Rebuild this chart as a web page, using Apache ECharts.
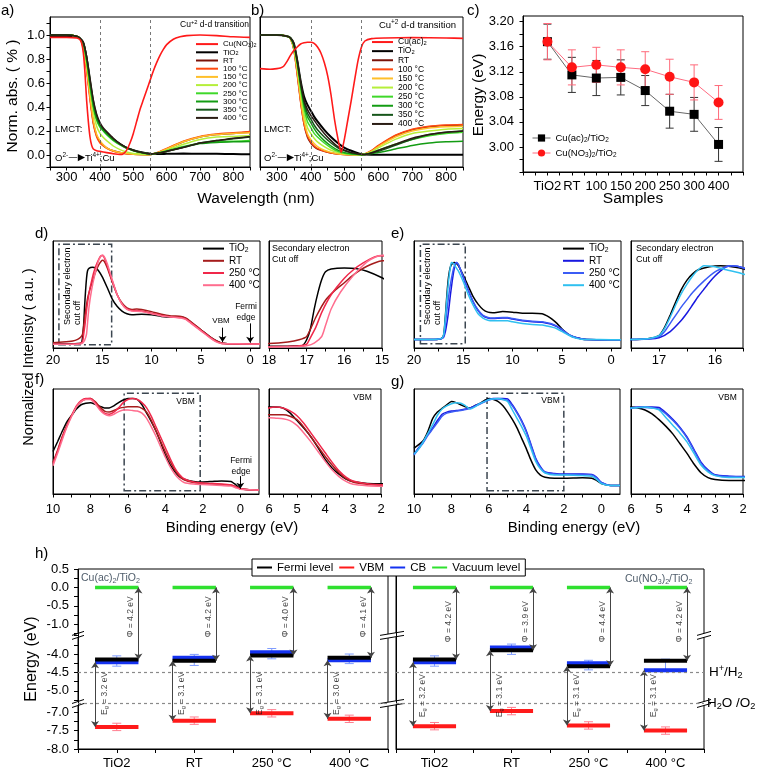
<!DOCTYPE html>
<html>
<head>
<meta charset="utf-8">
<script src="https://cdn.jsdelivr.net/npm/echarts@6.0.0/dist/echarts.min.js"></script>
<style>html,body{margin:0;padding:0;background:#fff;}#chart{width:757px;height:771px;}</style>
</head>
<body>
<div id="chart"></div>
<script>
// ===================== DATA =====================
// (a),(b) UV-vis, wavelength grid (nm)
const WL = [250,300,330,340,350,360,370,380,390,400,410,420,440,460,480,500,520,540,550,560,580,600,650,700,750,800,850];
const SAMPLES = ['TiO2','RT','100 °C','150 °C','200 °C','250 °C','300 °C','350 °C','400 °C'];
const A_CUNO3 = [[250,0.98],[300,0.98],[330,0.975],[340,0.96],[345,0.93],[350,0.85],[355,0.68],[360,0.45],[365,0.28],[370,0.15],[375,0.08],[380,0.05],[390,0.035],[400,0.03],[420,0.02],[440,0.01],[460,0.004],[470,0.01],[480,0.04],[490,0.1],[500,0.18],[510,0.28],[520,0.38],[530,0.46],[540,0.54],[550,0.62],[560,0.7],[570,0.77],[580,0.83],[590,0.88],[600,0.92],[620,0.965],[640,0.985],[660,0.995],[700,1.0],[750,0.995],[800,0.985],[850,0.98]];
const A_TIO2 = [0.99,0.99,0.985,0.97,0.93,0.80,0.60,0.42,0.31,0.25,0.21,0.18,0.13,0.09,0.06,0.04,0.025,0.015,0.01,0.008,0.008,0.01,0.012,0.01,0.01,0.008,0.006];
const A_RT   = [1.0,1.0,0.99,0.97,0.90,0.72,0.48,0.27,0.16,0.11,0.08,0.06,0.035,0.02,0.01,0.006,0.004,0.003,0.003,0.008,0.025,0.05,0.11,0.15,0.17,0.18,0.19];
const A_100  = [1.0,1.0,0.99,0.97,0.89,0.70,0.46,0.26,0.15,0.10,0.075,0.055,0.03,0.018,0.01,0.006,0.004,0.003,0.004,0.01,0.03,0.055,0.115,0.155,0.175,0.185,0.195];
const A_150  = [1.0,1.0,0.99,0.97,0.90,0.72,0.49,0.29,0.17,0.12,0.085,0.06,0.035,0.02,0.012,0.007,0.004,0.003,0.004,0.01,0.028,0.05,0.11,0.15,0.17,0.18,0.185];
const A_200  = [1.0,1.0,0.99,0.97,0.91,0.76,0.55,0.36,0.24,0.18,0.145,0.12,0.075,0.045,0.025,0.013,0.007,0.004,0.004,0.008,0.022,0.04,0.09,0.13,0.15,0.155,0.16];
const A_250  = [1.0,1.0,0.99,0.97,0.92,0.78,0.58,0.40,0.29,0.23,0.20,0.17,0.12,0.085,0.055,0.035,0.02,0.01,0.008,0.01,0.02,0.035,0.07,0.10,0.11,0.115,0.12];
const A_300  = [1.0,1.0,0.99,0.97,0.92,0.79,0.59,0.41,0.30,0.24,0.205,0.175,0.125,0.09,0.06,0.038,0.022,0.012,0.009,0.01,0.018,0.03,0.065,0.095,0.105,0.11,0.112];
const A_350  = [1.0,1.0,0.99,0.975,0.94,0.82,0.63,0.45,0.33,0.26,0.22,0.19,0.135,0.09,0.06,0.04,0.024,0.012,0.008,0.01,0.018,0.032,0.065,0.10,0.12,0.135,0.15];
const A_400  = [1.0,1.0,0.99,0.975,0.94,0.82,0.64,0.46,0.34,0.27,0.225,0.195,0.14,0.095,0.062,0.04,0.024,0.012,0.008,0.01,0.018,0.03,0.062,0.10,0.12,0.14,0.155];

const B_CUAC = [[250,0.72],[280,0.715],[300,0.72],[310,0.725],[320,0.74],[330,0.78],[340,0.83],[350,0.87],[360,0.9],[370,0.925],[380,0.935],[390,0.94],[400,0.94],[410,0.93],[420,0.9],[430,0.85],[440,0.77],[450,0.66],[460,0.5],[470,0.3],[480,0.14],[490,0.02],[500,0.14],[510,0.3],[520,0.46],[530,0.63],[540,0.79],[550,0.9],[560,0.95],[580,0.97],[620,0.975],[700,0.978],[800,0.975],[850,0.972]];
const B_TIO2 = [1.0,1.0,0.99,0.975,0.93,0.79,0.62,0.49,0.42,0.37,0.32,0.28,0.21,0.15,0.10,0.06,0.035,0.015,0.008,0.004,0.003,0.003,0.003,0.003,0.002,0.002,0.002];
const B_RT   = [1.0,1.0,0.99,0.97,0.88,0.68,0.45,0.26,0.15,0.10,0.07,0.05,0.03,0.016,0.008,0.004,0.002,0.002,0.003,0.008,0.035,0.075,0.16,0.21,0.235,0.245,0.25];
const B_100  = [1.0,1.0,0.99,0.97,0.88,0.67,0.44,0.26,0.16,0.11,0.075,0.055,0.03,0.016,0.008,0.004,0.002,0.002,0.003,0.009,0.038,0.08,0.165,0.215,0.24,0.25,0.255];
const B_150  = [1.0,1.0,0.99,0.97,0.89,0.70,0.47,0.29,0.18,0.13,0.095,0.07,0.04,0.022,0.011,0.005,0.003,0.002,0.003,0.008,0.033,0.07,0.15,0.20,0.225,0.235,0.24];
const B_200  = [1.0,1.0,0.99,0.97,0.90,0.73,0.52,0.34,0.23,0.18,0.14,0.11,0.07,0.04,0.02,0.01,0.005,0.003,0.003,0.007,0.028,0.06,0.13,0.18,0.20,0.215,0.22];
const B_250  = [1.0,1.0,0.99,0.975,0.91,0.76,0.56,0.39,0.28,0.23,0.18,0.15,0.10,0.06,0.03,0.015,0.008,0.004,0.003,0.006,0.02,0.04,0.09,0.13,0.16,0.18,0.19];
const B_300  = [1.0,1.0,0.99,0.975,0.92,0.78,0.59,0.42,0.32,0.27,0.22,0.18,0.12,0.075,0.04,0.02,0.01,0.005,0.003,0.005,0.012,0.02,0.05,0.08,0.10,0.11,0.115];
const B_350  = [1.0,1.0,0.99,0.975,0.92,0.78,0.60,0.44,0.35,0.30,0.25,0.21,0.15,0.10,0.06,0.035,0.018,0.008,0.004,0.005,0.014,0.03,0.08,0.13,0.17,0.19,0.20];
const B_400  = [1.0,1.0,0.99,0.975,0.93,0.79,0.61,0.46,0.38,0.33,0.29,0.25,0.18,0.12,0.07,0.04,0.02,0.01,0.005,0.005,0.018,0.04,0.09,0.14,0.17,0.19,0.20];

// (c) band gap energies
const C_CATS = ['TiO2','RT','100','150','200','250','300','400'];
const C_AC = [3.168,3.115,3.110,3.111,3.090,3.057,3.052,3.004];
const C_AC_ERR = [0.028,0.028,0.028,0.028,0.024,0.027,0.027,0.027];
const C_NO3 = [3.168,3.127,3.131,3.127,3.124,3.112,3.103,3.071];
const C_NO3_ERR = [0.029,0.028,0.028,0.028,0.028,0.028,0.028,0.027];

// (d) UPS, Cu(NO3)2 series  [binding energy, intensity]
const D_TIO2 = [[20,0.04],[19,0.04],[18,0.04],[17.5,0.042],[17.2,0.045],[17.1,0.05],[17.0,0.1],[16.9,0.2],[16.8,0.38],[16.7,0.53],[16.6,0.65],[16.5,0.72],[16.35,0.745],[16.0,0.755],[15.7,0.75],[15.4,0.725],[15.0,0.665],[14.5,0.565],[14.0,0.46],[13.5,0.39],[13.0,0.345],[12.5,0.32],[12.0,0.31],[11.0,0.315],[10.0,0.31],[9.0,0.295],[8.0,0.29],[7.0,0.29],[6.5,0.275],[6.0,0.24],[5.0,0.17],[4.0,0.1],[3.5,0.07],[3.0,0.05],[2.5,0.042],[2.0,0.04],[0,0.04],[-1,0.04]];
const D_RT = [[20,0.05],[19,0.055],[18,0.065],[17.5,0.08],[17.2,0.1],[17.0,0.13],[16.75,0.31],[16.5,0.46],[16.25,0.55],[16.0,0.62],[15.8,0.68],[15.6,0.73],[15.4,0.77],[15.2,0.8],[15.0,0.82],[14.8,0.81],[14.5,0.75],[14.0,0.62],[13.5,0.5],[13.0,0.42],[12.5,0.375],[12.0,0.36],[11.5,0.365],[11.0,0.36],[10.0,0.34],[9.0,0.315],[8.0,0.3],[7.0,0.295],[6.5,0.28],[6.0,0.245],[5.0,0.17],[4.0,0.1],[3.5,0.07],[3.0,0.05],[2.5,0.042],[2.0,0.04],[0,0.04],[-1,0.04]];
const D_250 = [[20,0.035],[18,0.037],[17.5,0.04],[17.2,0.045],[17.0,0.06],[16.9,0.12],[16.75,0.22],[16.6,0.35],[16.35,0.51],[16.0,0.66],[15.75,0.74],[15.5,0.8],[15.2,0.855],[15.0,0.865],[14.8,0.845],[14.5,0.77],[14.0,0.63],[13.5,0.5],[13.0,0.41],[12.5,0.365],[12.0,0.35],[11.5,0.35],[11.0,0.345],[10.0,0.325],[9.0,0.305],[8.0,0.29],[7.0,0.285],[6.5,0.27],[6.0,0.235],[5.0,0.165],[4.0,0.095],[3.5,0.065],[3.0,0.045],[2.5,0.04],[0,0.038],[-1,0.038]];
const D_400 = [[20,0.035],[18,0.035],[17.2,0.038],[17.0,0.045],[16.8,0.07],[16.6,0.13],[16.5,0.23],[16.35,0.38],[16.1,0.535],[15.75,0.69],[15.4,0.81],[15.2,0.85],[15.0,0.87],[14.8,0.855],[14.5,0.79],[14.0,0.64],[13.5,0.5],[13.0,0.41],[12.5,0.36],[12.0,0.345],[11.0,0.34],[10.0,0.32],[9.0,0.3],[8.0,0.29],[7.0,0.28],[6.5,0.265],[6.0,0.23],[5.0,0.16],[4.0,0.09],[3.5,0.06],[3.0,0.044],[2.5,0.04],[0,0.038],[-1,0.038]];

// (e) UPS, Cu(ac)2 series
const E_TIO2 = [[20,0.08],[18,0.08],[17.5,0.082],[17.2,0.09],[17.0,0.12],[16.9,0.2],[16.8,0.32],[16.7,0.45],[16.6,0.57],[16.5,0.66],[16.4,0.72],[16.3,0.76],[16.1,0.79],[15.9,0.8],[15.7,0.79],[15.5,0.77],[15.0,0.68],[14.5,0.58],[14.0,0.48],[13.5,0.41],[13.0,0.36],[12.5,0.335],[12.0,0.33],[11.0,0.34],[10.0,0.335],[9.0,0.325],[8.0,0.325],[7.0,0.32],[6.5,0.3],[6.0,0.27],[5.5,0.23],[5.0,0.18],[4.5,0.14],[4.0,0.11],[3.5,0.095],[3.0,0.085],[2.5,0.08],[0,0.078],[-1,0.078]];
const E_RT = [[20,0.08],[18,0.08],[17.5,0.082],[17.2,0.088],[17.0,0.1],[16.8,0.16],[16.6,0.27],[16.5,0.34],[16.4,0.42],[16.3,0.5],[16.2,0.57],[16.1,0.64],[16.0,0.7],[15.9,0.75],[15.8,0.79],[15.7,0.8],[15.5,0.78],[15.0,0.66],[14.5,0.54],[14.0,0.43],[13.5,0.35],[13.0,0.3],[12.5,0.28],[12.0,0.275],[11.0,0.28],[10.5,0.28],[10.0,0.27],[9.0,0.255],[8.0,0.245],[7.0,0.24],[6.5,0.23],[6.0,0.22],[5.5,0.2],[5.0,0.17],[4.5,0.135],[4.0,0.11],[3.5,0.095],[3.0,0.085],[2.5,0.08],[0,0.078],[-1,0.078]];
const E_250 = [[20,0.08],[18,0.08],[17.2,0.088],[17.0,0.11],[16.9,0.16],[16.8,0.24],[16.7,0.32],[16.6,0.4],[16.5,0.47],[16.4,0.54],[16.2,0.65],[16.0,0.74],[15.8,0.79],[15.7,0.8],[15.5,0.78],[15.0,0.665],[14.5,0.545],[14.0,0.435],[13.5,0.355],[13.0,0.305],[12.5,0.285],[12.0,0.28],[11.0,0.285],[10.5,0.285],[10.0,0.275],[9.0,0.26],[8.0,0.25],[7.0,0.245],[6.5,0.235],[6.0,0.225],[5.5,0.205],[5.0,0.175],[4.5,0.14],[4.0,0.112],[3.5,0.096],[3.0,0.086],[2.5,0.08],[0,0.078],[-1,0.078]];
const E_400 = [[20,0.08],[18,0.08],[17.2,0.09],[17.0,0.12],[16.9,0.19],[16.8,0.3],[16.7,0.42],[16.6,0.53],[16.5,0.62],[16.4,0.7],[16.3,0.76],[16.2,0.8],[16.0,0.79],[15.8,0.76],[15.5,0.72],[15.0,0.62],[14.5,0.5],[14.0,0.4],[13.5,0.32],[13.0,0.28],[12.5,0.26],[12.0,0.255],[11.0,0.255],[10.5,0.255],[10.0,0.245],[9.0,0.23],[8.0,0.22],[7.0,0.215],[6.5,0.205],[6.0,0.195],[5.5,0.18],[5.0,0.155],[4.5,0.13],[4.0,0.105],[3.5,0.09],[3.0,0.082],[2.5,0.08],[0,0.078],[-1,0.078]];

// (f) valence band, Cu(NO3)2 series
const F_TIO2 = [[10,0.405],[9.75,0.5],[9.5,0.6],[9.25,0.69],[9,0.75],[8.75,0.81],[8.5,0.85],[8.25,0.865],[8,0.87],[7.75,0.855],[7.5,0.835],[7.25,0.82],[7,0.82],[6.75,0.84],[6.5,0.87],[6.25,0.895],[6,0.91],[5.75,0.91],[5.5,0.9],[5.25,0.85],[5,0.77],[4.75,0.69],[4.5,0.6],[4.25,0.49],[4,0.37],[3.75,0.28],[3.5,0.215],[3.25,0.165],[3,0.14],[2.5,0.12],[2,0.115],[1.5,0.12],[1,0.125],[0.5,0.12],[0.25,0.09],[0,0.05],[-0.5,0.04],[-1,0.038]];
const F_RT = [[10,0.3],[9.75,0.42],[9.5,0.55],[9.25,0.66],[9,0.75],[8.75,0.83],[8.5,0.88],[8.25,0.905],[8,0.91],[7.75,0.88],[7.5,0.83],[7.25,0.79],[7,0.78],[6.75,0.795],[6.5,0.815],[6.25,0.825],[6,0.83],[5.75,0.83],[5.5,0.83],[5.25,0.815],[5,0.78],[4.75,0.7],[4.5,0.6],[4.25,0.5],[4,0.4],[3.75,0.31],[3.5,0.23],[3.25,0.17],[3,0.135],[2.5,0.11],[2,0.1],[1.5,0.095],[1,0.09],[0.5,0.085],[0.25,0.07],[0,0.05],[-0.5,0.04],[-1,0.038]];
const F_250 = [[10,0.29],[9.75,0.41],[9.5,0.54],[9.25,0.65],[9,0.75],[8.75,0.84],[8.5,0.89],[8.25,0.91],[8,0.91],[7.75,0.87],[7.5,0.81],[7.25,0.77],[7,0.76],[6.75,0.78],[6.5,0.82],[6.25,0.87],[6,0.9],[5.75,0.91],[5.5,0.9],[5.25,0.87],[5,0.82],[4.75,0.74],[4.5,0.64],[4.25,0.54],[4,0.44],[3.75,0.34],[3.5,0.25],[3.25,0.185],[3,0.145],[2.5,0.115],[2,0.105],[1.5,0.1],[1,0.095],[0.5,0.085],[0.25,0.07],[0,0.05],[-0.5,0.04],[-1,0.038]];
const F_400 = [[10,0.27],[9.75,0.39],[9.5,0.52],[9.25,0.64],[9,0.74],[8.75,0.83],[8.5,0.88],[8.25,0.9],[8,0.9],[7.75,0.86],[7.5,0.8],[7.25,0.76],[7,0.745],[6.75,0.76],[6.5,0.785],[6.25,0.8],[6,0.8],[5.75,0.795],[5.5,0.79],[5.25,0.77],[5,0.72],[4.75,0.64],[4.5,0.55],[4.25,0.45],[4,0.35],[3.75,0.26],[3.5,0.19],[3.25,0.14],[3,0.11],[2.5,0.095],[2,0.09],[1.5,0.085],[1,0.08],[0.5,0.075],[0.25,0.06],[0,0.045],[-0.5,0.04],[-1,0.038]];

// (g) valence band, Cu(ac)2 series
const G_TIO2 = [[10,0.435],[9.75,0.47],[9.5,0.51],[9.25,0.6],[9,0.72],[8.75,0.78],[8.5,0.816],[8.25,0.85],[8,0.88],[7.75,0.87],[7.5,0.85],[7.25,0.83],[7,0.82],[6.75,0.84],[6.5,0.86],[6.25,0.89],[6,0.91],[5.75,0.9],[5.5,0.88],[5.25,0.84],[5,0.78],[4.75,0.71],[4.5,0.63],[4.25,0.53],[4,0.43],[3.75,0.32],[3.5,0.23],[3.25,0.18],[3,0.16],[2.5,0.15],[2,0.15],[1.5,0.152],[1,0.155],[0.5,0.15],[0.25,0.13],[0,0.1],[-0.5,0.08],[-1,0.08]];
const G_RT = [[10,0.38],[9.75,0.44],[9.5,0.5],[9.25,0.57],[9,0.63],[8.75,0.7],[8.5,0.76],[8.25,0.78],[8,0.79],[7.75,0.795],[7.5,0.8],[7.25,0.81],[7,0.82],[6.75,0.84],[6.5,0.86],[6.25,0.88],[6,0.9],[5.75,0.91],[5.5,0.91],[5.25,0.91],[5,0.905],[4.75,0.85],[4.5,0.78],[4.25,0.7],[4,0.6],[3.75,0.47],[3.5,0.34],[3.25,0.26],[3,0.21],[2.5,0.195],[2,0.19],[1.5,0.19],[1,0.19],[0.5,0.185],[0.25,0.16],[0,0.11],[-0.5,0.08],[-1,0.08]];
const G_250 = [[10,0.37],[9.75,0.43],[9.5,0.49],[9.25,0.56],[9,0.62],[8.75,0.68],[8.5,0.74],[8.25,0.77],[8,0.78],[7.75,0.79],[7.5,0.795],[7.25,0.805],[7,0.815],[6.75,0.835],[6.5,0.855],[6.25,0.875],[6,0.895],[5.75,0.905],[5.5,0.905],[5.25,0.9],[5,0.89],[4.75,0.84],[4.5,0.77],[4.25,0.69],[4,0.59],[3.75,0.46],[3.5,0.33],[3.25,0.25],[3,0.205],[2.5,0.19],[2,0.185],[1.5,0.185],[1,0.185],[0.5,0.18],[0.25,0.155],[0,0.11],[-0.5,0.08],[-1,0.08]];
const G_400 = [[10,0.38],[9.75,0.43],[9.5,0.5],[9.25,0.58],[9,0.66],[8.75,0.75],[8.5,0.81],[8.25,0.84],[8,0.86],[7.75,0.87],[7.5,0.865],[7.25,0.84],[7,0.81],[6.75,0.83],[6.5,0.86],[6.25,0.88],[6,0.9],[5.75,0.905],[5.5,0.91],[5.25,0.9],[5,0.88],[4.75,0.8],[4.5,0.72],[4.25,0.64],[4,0.55],[3.75,0.43],[3.5,0.31],[3.25,0.24],[3,0.2],[2.5,0.18],[2,0.18],[1.5,0.178],[1,0.175],[0.5,0.17],[0.25,0.14],[0,0.1],[-0.5,0.08],[-1,0.08]];

// (h) energy levels (eV vs vacuum)
const H_CATS = ['TiO2','RT','250 °C','400 °C'];
const H_VAC = [0,0,0,0];
const H_AC_FERMI = [-4.15,-4.18,-4.04,-4.10];
const H_AC_CB    = [-4.22,-4.10,-3.95,-4.17];
const H_AC_VBM   = [-7.40,-7.23,-7.03,-7.18];
const H_AC_CBERR_C = [-4.19,-4.16,-3.99,-4.13];
const H_AC_CBERR   = [0.14,0.15,0.14,0.13];
const H_AC_VBERR   = [0.1,0.1,0.1,0.1];
const H_AC_PHI = ['4.2','4.2','4.0','4.1'];
const H_AC_EG  = ['3.2','3.1','3.1','3.0'];
const H_NO3_FERMI = [-4.15,-3.90,-4.33,-4.18];
const H_NO3_CB    = [-4.22,-3.82,-4.25,-4.44];
const H_NO3_VBM   = [-7.38,-6.97,-7.36,-7.50];
const H_NO3_CBERR_C = [-4.19,-3.87,-4.30,-4.31];
const H_NO3_CBERR   = [0.14,0.14,0.13,0.17];
const H_NO3_VBERR   = [0.1,0.1,0.1,0.1];
const H_NO3_PHI = ['4.2','3.9','4.4','4.2'];
const H_NO3_EG  = ['3.2','3.1','3.1','3.1'];
const H_REDOX = [-4.5, -5.73];   // H+/H2 and H2O/O2

// ===================== HELPERS =====================
const FONT = 'Liberation Sans, Arial, Helvetica, sans-serif';
const range = (a, b, s) => { const o = []; const n = Math.round((b - a) / s); for (let i = 0; i <= n; i++) o.push(+(a + i * s).toFixed(6)); return o; };
const COL_AB = {'TiO2':'#000000','RT':'#7a1208','100 °C':'#ff4a10','150 °C':'#ffbf2a','200 °C':'#b5ef3a','250 °C':'#3fd82a','300 °C':'#139c13','350 °C':'#16561a','400 °C':'#2a1c14'};
const COL_DF = {'TiO2':'#000000','RT':'#a51c1c','250 °C':'#f0284a','400 °C':'#ff6d8e'};
const COL_EG = {'TiO2':'#000000','RT':'#1818e0','250 °C':'#3b5cf5','400 °C':'#30c0f0'};
const RICHNAME = {'TiO2':'TiO{s|2}','Cu(NO3)2':'Cu(NO{s|3}){s|2}','Cu(ac)2':'Cu(ac){s|2}','Cu(ac)2/TiO2':'Cu(ac){s|2}/TiO{s|2}','Cu(NO3)2/TiO2':'Cu(NO{s|3}){s|2}/TiO{s|2}'};
const fmtName = n => { const t = n.slice(n.indexOf('|') + 1); return RICHNAME[t] || t; };
const richFor = (fs, lh) => ({
  s: {fontSize: fs * 0.68, fontFamily: FONT, verticalAlign: 'bottom', lineHeight: lh},
  p: {fontSize: fs * 0.68, fontFamily: FONT, verticalAlign: 'top', lineHeight: lh},
  n: {fontSize: fs, fontFamily: FONT, lineHeight: lh},
  a: {fontSize: fs, fontFamily: 'DejaVu Sans, sans-serif', lineHeight: lh}
});

function grid(l, t, w, h) { return {left: l, top: t, width: w, height: h, show: true, borderColor: '#000', borderWidth: 1, backgroundColor: 'rgba(0,0,0,0)'}; }
function vAxis(g, o) {
  return {
    type: 'value', gridIndex: g, min: o.min, max: o.max, inverse: !!o.inverse,
    axisLine: {show: true, onZero: false, lineStyle: {color: '#000', width: 1}},
    axisTick: {show: !!o.ticks, inside: false, length: o.tl || 3.5, customValues: o.ticks, lineStyle: {color: '#000', width: 1}},
    axisLabel: {show: !!o.labels, customValues: o.labels, formatter: o.fmt || (v => String(v)), margin: o.margin || 5,
      fontSize: o.fs || 13, color: '#000', fontFamily: FONT, hideOverlap: false},
    splitLine: {show: false}, minorTick: {show: false}, breaks: o.breaks, breakArea: o.breaks ? {show: false} : undefined
  };
}
function line(name, g, data, color, width, extra) {
  return Object.assign({type: 'line', name, xAxisIndex: g, yAxisIndex: g, data, symbol: 'none', smooth: 0.2,
    lineStyle: {color, width}, itemStyle: {color}, silent: true, z: 2}, extra || {});
}
function errSeries(g, data, color, cap) {
  return {type: 'custom', xAxisIndex: g, yAxisIndex: g, silent: true, z: 1, data, encode: {x: 0, y: 1},
    renderItem: (params, api) => {
      const x = api.value(0), y = api.value(1), e = api.value(2);
      const a = api.coord([x, y + e]), b = api.coord([x, y - e]);
      const st = {stroke: color, lineWidth: 1};
      return {type: 'group', children: [
        {type: 'line', shape: {x1: a[0], y1: a[1], x2: b[0], y2: b[1]}, style: st},
        {type: 'line', shape: {x1: a[0] - cap / 2, y1: a[1], x2: a[0] + cap / 2, y2: a[1]}, style: st},
        {type: 'line', shape: {x1: b[0] - cap / 2, y1: b[1], x2: b[0] + cap / 2, y2: b[1]}, style: st}
      ]};
    }};
}
const W = 0.28;
function segs(vals) { const o = []; vals.forEach((v, i) => { o.push([i - W, v], [i + W, v]); if (i < vals.length - 1) o.push([i + 0.5, '-']); }); return o; }

// ===================== GRIDS & AXES =====================
const grids = [
  grid(50, 17, 200, 150),    // 0 a
  grid(260, 17, 203, 150),   // 1 b
  grid(523, 16, 220, 156),   // 2 c
  grid(53, 241, 207, 107),   // 3 d
  grid(269, 241, 113, 107),  // 4 d inset
  grid(414, 241, 207, 107),  // 5 e
  grid(631, 241, 112, 107),  // 6 e inset
  grid(53, 389, 206, 105),   // 7 f
  grid(269, 389, 112, 105),  // 8 f inset
  grid(414, 389, 206, 105),  // 9 g
  grid(631, 389, 112, 105),  // 10 g inset
  grid(78, 569, 310, 180),   // 11 h left
  grid(396, 569, 308, 180)   // 12 h right
];
const wlTicks = range(250, 850, 50), wlLabels = range(300, 800, 100);
const H_BREAKS = [{start: -6.75, end: -5.33, gap: 0}, {start: -3.48, end: -1.29, gap: 0}];
const hYTicks = [0.5,0.25,0,-0.25,-0.5,-0.75,-1,-1.25,-3.5,-3.75,-4,-4.25,-4.5,-4.75,-5,-5.25,-7,-7.25,-7.5,-7.75,-8];
const hYLabels = [0.5,0,-0.5,-1,-4,-4.5,-5,-7,-7.5,-8];
const xAxes = [
  vAxis(0, {min: 250, max: 850, ticks: wlTicks, labels: wlLabels, margin: 4}),
  vAxis(1, {min: 250, max: 850, ticks: wlTicks, labels: wlLabels, margin: 4}),
  vAxis(2, {min: -1, max: 8, ticks: range(-1, 8, 0.5), labels: range(0, 7, 1), fmt: v => C_CATS[Math.round(v)], margin: 8}),
  vAxis(3, {min: -1, max: 20, inverse: true, ticks: range(0, 20, 2.5), labels: [0,5,10,15,20], margin: 6}),
  vAxis(4, {min: 15, max: 18, inverse: true, ticks: range(15, 18, 0.5), labels: [15,16,17,18], margin: 6}),
  vAxis(5, {min: -1, max: 20, inverse: true, ticks: range(0, 20, 2.5), labels: [0,5,10,15,20], margin: 6}),
  vAxis(6, {min: 15.5, max: 17.5, inverse: true, ticks: range(15.5, 17.5, 0.5), labels: [16,17], margin: 6}),
  vAxis(7, {min: -1, max: 10, inverse: true, ticks: range(0, 10, 1), labels: [0,2,4,6,8,10], margin: 9}),
  vAxis(8, {min: 2, max: 6, inverse: true, ticks: range(2, 6, 0.5), labels: [2,3,4,5,6], margin: 9}),
  vAxis(9, {min: -1, max: 10, inverse: true, ticks: range(0, 10, 1), labels: [0,2,4,6,8,10], margin: 9}),
  vAxis(10, {min: 2, max: 6, inverse: true, ticks: range(2, 6, 0.5), labels: [2,3,4,5,6], margin: 9}),
  vAxis(11, {min: -0.5, max: 3.5, ticks: range(-0.5, 3.5, 0.5), labels: [0,1,2,3], fmt: v => H_CATS[Math.round(v)], margin: 8, tl: 4}),
  vAxis(12, {min: -0.5, max: 3.5, ticks: range(-0.5, 3.5, 0.5), labels: [0,1,2,3], fmt: v => H_CATS[Math.round(v)], margin: 8, tl: 4})
];
const yAxes = [
  vAxis(0, {min: -0.1, max: 1.15, ticks: range(-0.1, 1.1, 0.1), labels: range(0, 1, 0.2), fmt: v => v.toFixed(1), margin: 5}),
  vAxis(1, {min: -0.1, max: 1.15}),
  vAxis(2, {min: 2.96, max: 3.209, ticks: range(2.96, 3.2, 0.02), labels: range(3.0, 3.2, 0.04), fmt: v => v.toFixed(2), margin: 9}),
  vAxis(3, {min: 0, max: 1}),
  vAxis(4, {min: 0.025, max: 1.0}),
  vAxis(5, {min: 0, max: 1}),
  vAxis(6, {min: 0, max: 1.04}),
  vAxis(7, {min: 0, max: 1}),
  vAxis(8, {min: 0.01, max: 1.097}),
  vAxis(9, {min: 0, max: 1}),
  vAxis(10, {min: 0.01, max: 1.097}),
  vAxis(11, {min: -8, max: 0.5, ticks: hYTicks, labels: hYLabels, fmt: v => v.toFixed(1), margin: 9, tl: 4, breaks: H_BREAKS}),
  vAxis(12, {min: -8, max: 0.5, breaks: H_BREAKS})
];

// ===================== SERIES =====================
const series = [];
const vDash = {silent: true, symbol: 'none', label: {show: false}, lineStyle: {color: '#555', type: [3, 3], width: 0.8}, data: [{xAxis: 400}, {xAxis: 550}]};
// (a)
[A_TIO2, A_RT, A_100, A_150, A_200, A_250, A_300, A_350, A_400].forEach((arr, k) => {
  const n = SAMPLES[k];
  series.push(line('a|' + n, 0, WL.map((w, i) => [w, arr[i]]), COL_AB[n], n === 'TiO2' ? 2 : 1.5, k === 0 ? {markLine: vDash} : null));
});
series.push(line('a|Cu(NO3)2', 0, A_CUNO3, '#ff1a1a', 1.6, {z: 3}));
// (b)
[B_TIO2, B_RT, B_100, B_150, B_200, B_250, B_300, B_350, B_400].forEach((arr, k) => {
  const n = SAMPLES[k];
  series.push(line('b|' + n, 1, WL.map((w, i) => [w, arr[i]]), COL_AB[n], n === 'TiO2' ? 2 : 1.5, k === 0 ? {markLine: vDash} : null));
});
series.push(line('b|Cu(ac)2', 1, B_CUAC, '#ff1a1a', 1.6, {z: 3}));
// (c)
series.push(errSeries(2, C_AC.map((v, i) => [i, v, C_AC_ERR[i]]), '#333', 8));
series.push(errSeries(2, C_NO3.map((v, i) => [i, v, C_NO3_ERR[i]]), '#ff6a7a', 8));
series.push({type: 'line', name: 'c|Cu(ac)2/TiO2', xAxisIndex: 2, yAxisIndex: 2, data: C_AC.map((v, i) => [i, v]),
  symbol: 'rect', symbolSize: 9, itemStyle: {color: '#000'}, lineStyle: {color: '#666', width: 1}, z: 3, silent: true});
series.push({type: 'line', name: 'c|Cu(NO3)2/TiO2', xAxisIndex: 2, yAxisIndex: 2, data: C_NO3.map((v, i) => [i, v]),
  symbol: 'circle', symbolSize: 10, itemStyle: {color: '#ff1515'}, lineStyle: {color: '#ff6b80', width: 1}, z: 4, silent: true});
// (d)-(g)
const boxStyle = {color: 'rgba(0,0,0,0)', borderColor: '#3c4650', borderWidth: 1.5, borderType: [7, 3, 2, 3]};
const arrowML = (pairs) => ({silent: true, symbol: ['none', 'arrow'], symbolSize: 6, label: {show: false},
  lineStyle: {color: '#000', width: 1, type: 'solid'}, data: pairs.map(p => [{coord: p[0]}, {coord: p[1]}])});
function upsPanel(prefix, g, gi, arrs, cols, box, arrows) {
  ['TiO2', 'RT', '250 °C', '400 °C'].forEach((n, k) => {
    const extra = k === 0 ? {markArea: {silent: true, itemStyle: boxStyle, data: [[{coord: box[0]}, {coord: box[1]}]]}} : {};
    if (k === 0 && arrows) extra.markLine = arrowML(arrows);
    series.push(line(prefix + '|' + n, g, arrs[k], cols[n], 1.5, extra));
    series.push(line(prefix + 'i|' + n, gi, arrs[k], cols[n], 1.5));
  });
}
upsPanel('d', 3, 4, [D_TIO2, D_RT, D_250, D_400], COL_DF, [[19.4, 0.03], [14.05, 0.97]], [[[2.8, 0.19], [2.8, 0.055]], [[0, 0.23], [0, 0.05]]]);
upsPanel('e', 5, 6, [E_TIO2, E_RT, E_250, E_400], COL_EG, [[19.35, 0.04], [14.8, 0.97]], null);
upsPanel('f', 7, 8, [F_TIO2, F_RT, F_250, F_400], COL_DF, [[6.2, 0.03], [2.14, 0.96]], [[[0, 0.17], [0, 0.05]]]);
upsPanel('g', 9, 10, [G_TIO2, G_RT, G_250, G_400], COL_EG, [[6.1, 0.03], [2.0, 0.96]], null);
// (h)
function hSide(g, p, F, CB, VB, cbC, cbE, vbE, PHI, EG, phiY, egY, withLabels) {
  const phiLines = F.map((f, i) => [{coord: [i + W, 0]}, {coord: [i + W, f]}]);
  const egLines = CB.map((c, i) => [{coord: [i - W, Math.min(c, F[i])]}, {coord: [i - W, VB[i]]}]);
  series.push(line(p + '|Vacuum level', g, segs(H_VAC), '#2fe02f', 3.5, {smooth: false, z: 3,
    markLine: {silent: true, symbol: ['arrow', 'arrow'], symbolSize: 6, label: {show: false},
      lineStyle: {color: '#444', width: 1, type: 'solid'}, data: phiLines.concat(egLines)}}));
  series.push(line(p + '|CB', g, segs(CB), '#1432f0', 4, {smooth: false, z: 3}));
  series.push(line(p + '|Fermi level', g, segs(F), '#000000', 4, {smooth: false, z: 4}));
  const redoxLabels = [{formatter: 'H{p|+}/H{s|2}', distance: 5}, {formatter: 'H{s|2}O /O{s|2}', distance: 3}];
  series.push(line(p + '|VBM', g, segs(VB), '#ff1a1a', 4, {smooth: false, z: 3,
    markLine: {silent: true, symbol: 'none', lineStyle: {color: '#8a8a8a', type: [3, 3], width: 1.2},
      label: {show: withLabels, position: 'end', fontSize: 13.5, fontFamily: FONT, color: '#000', rich: richFor(13.5, 16)},
      data: H_REDOX.map((v, k) => Object.assign({yAxis: v}, withLabels ? {label: redoxLabels[k]} : {}))}}));
  series.push(errSeries(g, cbC.map((v, i) => [i, v, cbE[i]]), '#7f9cff', 9));
  series.push(errSeries(g, VB.map((v, i) => [i, v, vbE[i]]), '#ff7f90', 9));
  const lbl = (x, y, text) => ({value: [x, y], label: {formatter: () => text}});
  series.push({type: 'scatter', xAxisIndex: g, yAxisIndex: g, symbol: 'circle', symbolSize: 2, itemStyle: {color: 'rgba(255,255,255,0)'}, silent: true, z: 5,
    label: {show: true, position: 'inside', rotate: 90, fontSize: 8.5, fontFamily: FONT, color: '#111', rich: richFor(8.5, 10)},
    data: PHI.map((t, i) => lbl(i + W - 0.1, phiY, 'Φ = ' + t + ' eV')).concat(EG.map((t, i) => lbl(i - W + 0.12, egY, 'E{s|g} = ' + t + ' eV')))});
}
hSide(11, 'h', H_AC_FERMI, H_AC_CB, H_AC_VBM, H_AC_CBERR_C, H_AC_CBERR, H_AC_VBERR, H_AC_PHI, H_AC_EG, -0.8, -5.07, false);
hSide(12, 'h2', H_NO3_FERMI, H_NO3_CB, H_NO3_VBM, H_NO3_CBERR_C, H_NO3_CBERR, H_NO3_VBERR, H_NO3_PHI, H_NO3_EG, -0.93, -5.13, true);

// ===================== LEGENDS =====================
function legend(o) {
  return Object.assign({orient: 'vertical', padding: 0, itemGap: 0, selectedMode: false, formatter: fmtName, icon: 'rect',
    textStyle: {fontSize: o.fs, lineHeight: o.lh, fontFamily: FONT, color: '#000', rich: richFor(o.fs, o.lh)}}, o.base);
}
const legends = [
  legend({fs: 8, lh: 8.2, base: {left: 196, top: 40, itemWidth: 22, itemHeight: 2, data: ['a|Cu(NO3)2'].concat(SAMPLES.map(n => 'a|' + n))}}),
  legend({fs: 8.5, lh: 9.1, base: {left: 372, top: 37.5, itemWidth: 21, itemHeight: 2, data: ['b|Cu(ac)2'].concat(SAMPLES.map(n => 'b|' + n))}}),
  legend({fs: 9.5, lh: 11, base: {left: 532, top: 132.5, itemWidth: 18, itemHeight: 9, itemGap: 4, icon: undefined, lineStyle: {width: 1}, data: ['c|Cu(ac)2/TiO2', 'c|Cu(NO3)2/TiO2']}}),
  legend({fs: 10, lh: 10.2, base: {left: 203, top: 243.5, itemWidth: 21, itemHeight: 2, itemGap: 2, data: ['d|TiO2', 'd|RT', 'd|250 °C', 'd|400 °C']}}),
  legend({fs: 10, lh: 10.2, base: {left: 563, top: 243.5, itemWidth: 21, itemHeight: 2, itemGap: 2, data: ['e|TiO2', 'e|RT', 'e|250 °C', 'e|400 °C']}}),
  legend({fs: 11.5, lh: 13, base: {orient: 'horizontal', left: 252, top: 559, itemWidth: 15, itemHeight: 2, itemGap: 6, padding: [2, 5],
    backgroundColor: '#fff', borderColor: '#000', borderWidth: 1, data: ['h|Fermi level', 'h|VBM', 'h|CB', 'h|Vacuum level']}})
];

const chart = echarts.init(document.getElementById('chart'), null, {renderer: 'canvas'});
chart.setOption({animation: false, textStyle: {fontFamily: FONT}, grid: grids, xAxis: xAxes, yAxis: yAxes, legend: legends, series});

// ===================== ANNOTATIONS =====================
let gid = 0;
function txt(x, y, text, fs, o) {
  o = o || {};
  return {type: 'text', id: 't' + (gid++), x, y, rotation: o.rot || 0, z: 100, silent: true,
    style: {text, fontSize: fs, fontFamily: FONT, fill: o.color || '#000', align: o.align || 'center', verticalAlign: o.va || 'middle',
      textAlign: o.align || 'center', textVerticalAlign: o.va || 'middle', rich: richFor(fs, fs * 1.2)}};
}
const R = Math.PI / 2;
const G = [
  txt(1, 3, 'a)', 15, {align: 'left', va: 'top'}),
  txt(251, 3, 'b)', 15, {align: 'left', va: 'top'}),
  txt(467, 3, 'c)', 15, {align: 'left', va: 'top'}),
  txt(35, 226, 'd)', 15, {align: 'left', va: 'top'}),
  txt(391, 226, 'e)', 15, {align: 'left', va: 'top'}),
  txt(35, 372, 'f)', 15, {align: 'left', va: 'top'}),
  txt(391, 374, 'g)', 15, {align: 'left', va: 'top'}),
  txt(35, 546, 'h)', 15, {align: 'left', va: 'top'}),
  txt(13, 96, 'Norm. abs. ( % )', 15.5, {rot: R}),
  txt(256, 199, 'Wavelength (nm)', 15.5),
  txt(479, 95, 'Energy (eV)', 15.5, {rot: R}),
  txt(633, 199, 'Samples', 15.5),
  txt(249, 25, '{n|Cu}{p|+2}{n| d-d transition}', 8.5, {align: 'right'}),
  txt(456, 25, '{n|Cu}{p|+2}{n| d-d transition}', 9.5, {align: 'right'}),
  txt(55, 129, 'LMCT:', 9.5, {align: 'left'}),
  txt(55, 158, '{n|O}{p|2-}{a|—▶}{n|Ti}{p|4+}{n|;Cu}', 9.5, {align: 'left'}),
  txt(264, 129, 'LMCT:', 9.5, {align: 'left'}),
  txt(264, 158, '{n|O}{p|2-}{a|—▶}{n|Ti}{p|4+}{n|;Cu}', 9.5, {align: 'left'}),
  txt(29, 357, 'Normalized Intenisty ( a.u. )', 14.5, {rot: R}),
  txt(67.5, 325, 'Secondary electron', 9, {rot: R, align: 'left'}),
  txt(78, 325, 'cut off', 9, {rot: R, align: 'left'}),
  txt(428, 325, 'Secondary electron', 9, {rot: R, align: 'left'}),
  txt(437.5, 325, 'cut off', 9, {rot: R, align: 'left'}),
  txt(272, 249, 'Secondary electron', 9, {align: 'left'}),
  txt(272, 260, 'Cut off', 9, {align: 'left'}),
  txt(636, 249, 'Secondary electron', 9, {align: 'left'}),
  txt(636, 260, 'Cut off', 9, {align: 'left'}),
  txt(221, 321, 'VBM', 8),
  txt(246, 307, 'Fermi', 8.5),
  txt(246, 318, 'edge', 8.5),
  txt(185.5, 402, 'VBM', 8.5),
  txt(241, 461, 'Fermi', 8.5),
  txt(241, 472, 'edge', 8.5),
  txt(362.5, 398, 'VBM', 8.5),
  txt(550.5, 401, 'VBM', 8.5),
  txt(727.5, 398, 'VBM', 8.5),
  txt(232, 528, 'Binding energy (eV)', 15),
  txt(574, 528, 'Binding energy (eV)', 15),
  txt(32, 659, 'Energy (eV)', 16, {rot: R}),
  txt(81, 578, '{n|Cu(ac)}{s|2}{n|/TiO}{s|2}', 10.5, {align: 'left', color: '#4f5d6b'}),
  txt(625, 579, '{n|Cu(NO}{s|3}{n|)}{s|2}{n|/TiO}{s|2}', 10.5, {align: 'left', color: '#4f5d6b'})
];
// axis-break marks on (h)
const yB = [chart.convertToPixel({yAxisIndex: 11}, -1.29), chart.convertToPixel({yAxisIndex: 11}, -5.33)];
[[78, 6], [392, 12], [704, 7]].forEach(([cx, hw], k) => {
  yB.forEach((cy, j) => {
    G.push({type: 'group', id: 'brk' + k + '_' + j, z: 120, silent: true, children: [
      {type: 'polygon', shape: {points: [[cx - hw, cy + 0.5], [cx + hw, cy - 3.5], [cx + hw, cy + 0.5], [cx - hw, cy + 4.5]]}, style: {fill: '#fff'}},
      {type: 'line', shape: {x1: cx - hw, y1: cy + 0.5, x2: cx + hw, y2: cy - 3.5}, style: {stroke: '#000', lineWidth: 1}},
      {type: 'line', shape: {x1: cx - hw, y1: cy + 4.5, x2: cx + hw, y2: cy + 0.5}, style: {stroke: '#000', lineWidth: 1}}
    ]});
  });
});
chart.setOption({graphic: G});
</script>
</body>
</html>
